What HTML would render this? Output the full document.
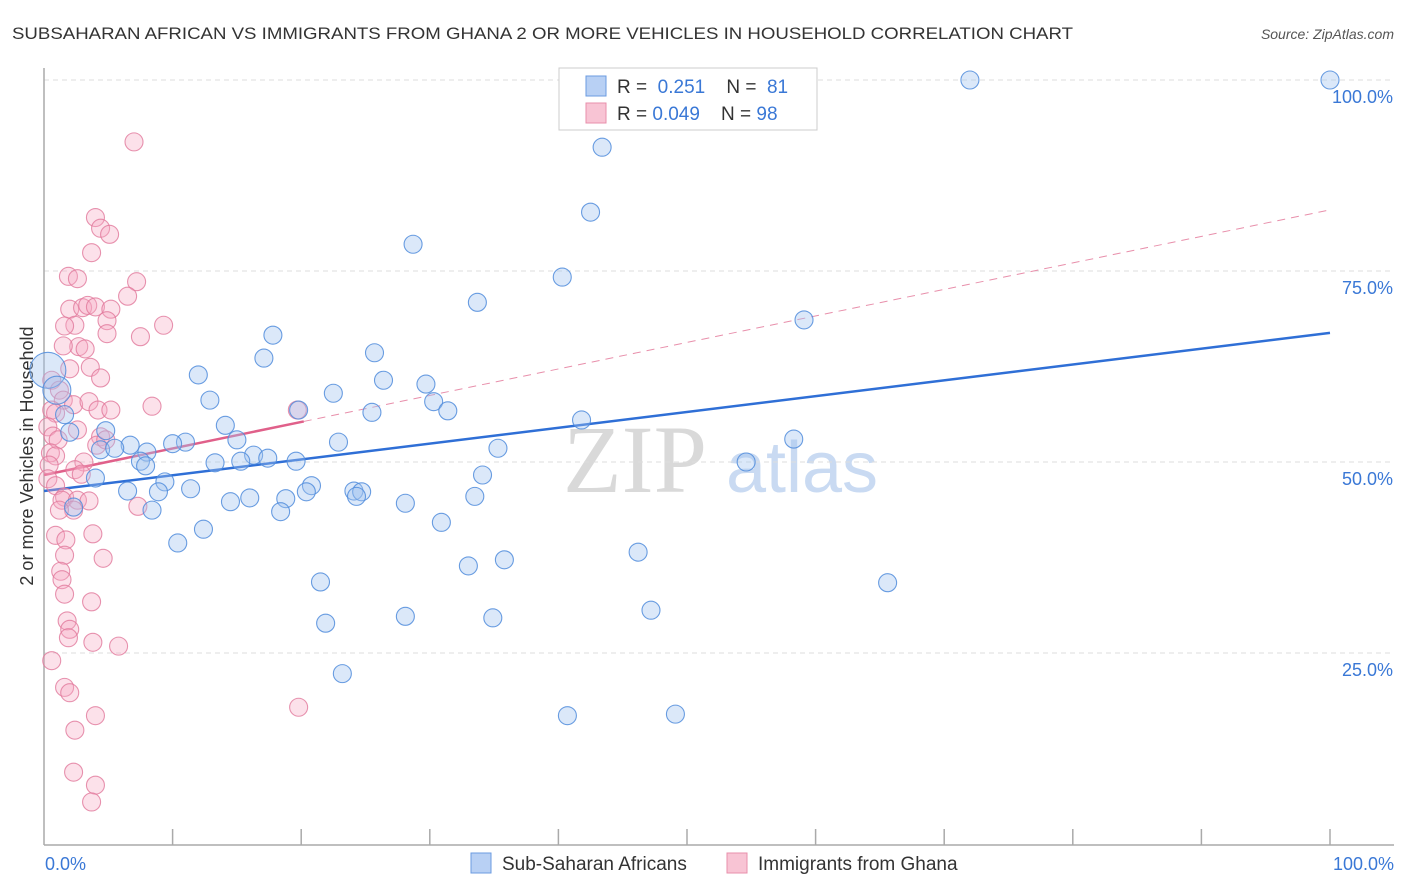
<!DOCTYPE html>
<html><head><meta charset="utf-8"><style>
body{margin:0;background:#fff;font-family:"Liberation Sans",sans-serif}
svg{display:block}
</style></head><body>
<svg id="chart" width="1406" height="892" xmlns="http://www.w3.org/2000/svg">
<text x="12" y="39" font-size="17" fill="#333" textLength="1061" lengthAdjust="spacingAndGlyphs">SUBSAHARAN AFRICAN VS IMMIGRANTS FROM GHANA 2 OR MORE VEHICLES IN HOUSEHOLD CORRELATION CHART</text>
<text x="1394" y="39" font-size="14" font-style="italic" fill="#555" text-anchor="end">Source: ZipAtlas.com</text>
<g>
<text x="635" y="492" font-size="96" fill="#d0d0d0" font-family="Liberation Serif,serif" text-anchor="middle" opacity="0.8">ZIP</text>
<text x="802" y="492" font-size="72" fill="#bcd2f0" text-anchor="middle" opacity="0.8">atlas</text>
</g>
<g id="grid"></g>
<g id="axes"></g>
<text transform="translate(33,456) rotate(-90)" font-size="18" fill="#333" text-anchor="middle">2 or more Vehicles in Household</text>
<g id="lines"></g>
<g id="pts"></g>
<g>
<rect x="559" y="68" width="258" height="62" fill="#fff" stroke="#ccc"/>
<rect x="586" y="76" width="20" height="20" fill="#b8d0f4" stroke="#6b9be0"/>
<rect x="586" y="103" width="20" height="20" fill="#f8c4d4" stroke="#e88fab"/>
<text x="617" y="93" font-size="19" fill="#333">R = <tspan fill="#3a78d6">&#160;0.251</tspan>&#160;&#160;&#160; N = <tspan fill="#3a78d6">&#160;81</tspan></text>
<text x="617" y="120" font-size="19" fill="#333">R = <tspan fill="#3a78d6">0.049</tspan>&#160;&#160;&#160; N = <tspan fill="#3a78d6">98</tspan></text>
</g>
<g>
<rect x="471" y="853" width="20" height="20" fill="#b8d0f4" stroke="#6b9be0"/>
<text x="502" y="870" font-size="19" fill="#333">Sub-Saharan Africans</text>
<rect x="727" y="853" width="20" height="20" fill="#f8c4d4" stroke="#e88fab"/>
<text x="758" y="870" font-size="19" fill="#333">Immigrants from Ghana</text>
</g>
</svg>
<script>
const yTicks=[25,50,75,100];
const yTickLabels=["25.0%","50.0%","75.0%","100.0%"];
const xEndLabels=["0.0%","100.0%"];
const blueX=[72.0,100,43.4,42.5,28.7,40.3,33.7,59.1,17.8,25.7,17.1,12.0,26.4,29.7,22.5,12.9,30.3,31.4,25.5,19.8,41.8,14.1,0.3,1.0,1.6,2.0,4.8,15.0,22.9,58.3,11.0,10.0,35.3,6.7,4.4,5.5,8.0,16.3,17.4,19.6,7.5,13.3,15.3,54.6,7.9,34.1,4.0,9.4,20.8,20.4,6.5,8.9,11.4,24.1,24.7,24.3,16.0,33.5,14.5,18.8,28.1,8.4,18.4,2.3,30.9,12.4,10.4,46.2,35.8,33.0,65.6,21.5,47.2,28.1,34.9,21.9,23.2,40.7,49.1];
const blueY=[100,100,91.2,82.7,78.5,74.2,70.9,68.6,66.6,64.3,63.6,61.4,60.7,60.2,59.0,58.1,57.9,56.7,56.5,56.8,55.5,54.8,62.0,59.4,56.2,53.9,54.1,52.9,52.6,53.0,52.6,52.4,51.8,52.2,51.6,51.8,51.3,50.9,50.5,50.1,50.1,49.9,50.1,50.0,49.5,48.3,47.9,47.4,46.9,46.1,46.2,46.1,46.5,46.2,46.1,45.5,45.3,45.5,44.8,45.2,44.6,43.7,43.5,44.1,42.1,41.2,39.4,38.2,37.2,36.4,34.2,34.3,30.6,29.8,29.6,28.9,22.3,16.8,17.0];
const pinkX=[7.0,4.0,4.4,5.1,3.7,1.9,2.6,7.2,6.5,9.3,2.0,3.0,3.4,4.0,2.4,1.6,5.2,4.9,4.9,7.5,2.7,3.2,1.5,3.6,2.0,4.4,0.6,1.2,1.5,2.3,3.5,4.2,8.4,5.2,0.6,0.9,0.3,0.7,2.6,4.4,1.1,4.1,4.8,0.5,0.9,0.4,3.1,2.4,2.9,0.3,0.9,1.6,1.4,2.6,3.5,7.3,2.3,1.2,19.7,0.9,1.7,3.8,1.6,4.6,1.3,1.4,1.6,3.7,1.8,2.0,1.9,3.8,5.8,0.6,1.6,2.0,4.0,2.4,19.8,2.3,4.0,3.7];
const pinkY=[91.9,82.0,80.6,79.8,77.4,74.3,74.0,73.6,71.7,67.9,70.0,70.2,70.5,70.3,67.9,67.8,70.0,68.5,66.8,66.4,65.1,64.8,65.2,62.4,62.2,61.0,60.7,59.4,58.1,57.5,57.9,56.8,57.3,56.8,56.8,56.4,54.6,53.4,54.2,53.3,52.9,52.2,52.9,51.2,50.8,49.6,50.0,49.0,48.4,47.8,46.9,45.4,45.0,45.0,44.9,44.2,43.7,43.7,56.8,40.4,39.8,40.6,37.8,37.4,35.7,34.6,32.7,31.7,29.2,28.1,27.0,26.4,25.9,24.0,20.5,19.8,16.8,14.9,17.9,9.4,7.7,5.5];
const blueBig=[0.3,1.0];
const blueTrend=[46.2,66.9];
const pinkTrend=[48.3,83.0];
const pinkSolidEnd=20.2;

const X0=44,X1=1330,Y0=844,Y1=80;
const sx=v=>X0+(X1-X0)*v/100;
const sy=v=>Y0-(Y0-Y1)*v/100;
const NS="http://www.w3.org/2000/svg";
function mk(tag,attrs,parent){const e=document.createElementNS(NS,tag);for(const k in attrs)e.setAttribute(k,attrs[k]);parent.appendChild(e);return e;}
const grid=document.getElementById('grid'),axes=document.getElementById('axes'),lines=document.getElementById('lines'),pts=document.getElementById('pts');
yTicks.forEach((t,i)=>{
 const l=mk('line',{x1:X0,x2:1394,y1:sy(t),y2:sy(t),stroke:'#ddd','stroke-dasharray':'5,4'},grid);
 
 
 const tx=mk('text',{x:1393,y:sy(t)+23,'font-size':18,fill:'#3a78d6','text-anchor':'end'},grid);
 tx.textContent=yTickLabels[i];
 
 
});
const ax=mk('line',{x1:X0,x2:X0,y1:68,y2:845,stroke:'#aaa','stroke-width':1.5},axes);


const bx=mk('line',{x1:X0,x2:1394,y1:845,y2:845,stroke:'#aaa','stroke-width':1.5},axes);


for(let v=10;v<=100;v+=10){
 const tk=mk('line',{x1:sx(v),x2:sx(v),y1:829,y2:845,stroke:'#aaa','stroke-width':1.5},axes);
 
 
}
[[0,'start',45],[100,'end',1394]].forEach((d,i)=>{
 const t=mk('text',{x:d[2],y:870,'font-size':18,fill:'#3a78d6','text-anchor':d[1]},axes);
 t.textContent=xEndLabels[i];
 
 
});
const bt=mk('line',{x1:sx(0),y1:sy(blueTrend[0]),x2:sx(100),y2:sy(blueTrend[1]),stroke:'#2f6fd6','stroke-width':2.5},lines);


const py=x=>pinkTrend[0]+(pinkTrend[1]-pinkTrend[0])*x/100;
const pd=mk('line',{x1:sx(pinkSolidEnd),y1:sy(py(pinkSolidEnd)),x2:sx(100),y2:sy(py(100)),stroke:'#e88fab','stroke-width':1,'stroke-dasharray':'8,6'},lines);


const ps=mk('line',{x1:sx(0),y1:sy(py(0)),x2:sx(pinkSolidEnd),y2:sy(py(pinkSolidEnd)),stroke:'#e0608a','stroke-width':2.5},lines);


pinkX.forEach((x,i)=>{
 const c=mk('circle',{cx:sx(x),cy:sy(pinkY[i]),r:9,fill:'rgba(245,170,196,0.35)',stroke:'rgba(225,120,155,0.8)','stroke-width':1.1},pts);
 
 
});
blueX.forEach((x,i)=>{
 const big=blueBig.includes(x)&&i>20&&i<24;
 const c=mk('circle',{cx:sx(x),cy:sy(blueY[i]),r:big?(x<0.5?18:14):9,fill:'rgba(160,195,240,0.38)',stroke:'rgba(80,140,220,0.85)','stroke-width':1.1},pts);
 
 
});
</script>
</body></html>
